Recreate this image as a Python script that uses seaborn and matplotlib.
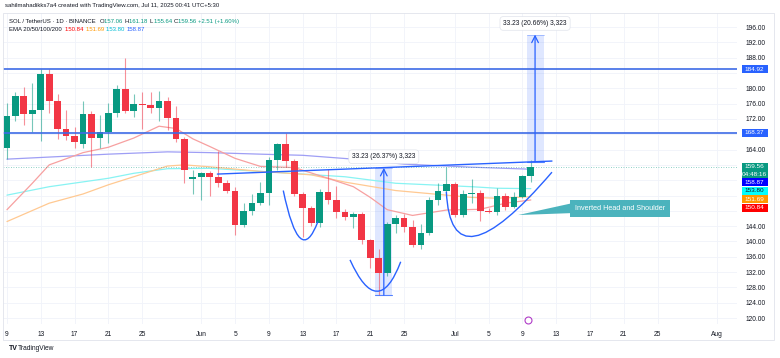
"""SOL/USDT daily chart with inverted head and shoulder markup"""

import matplotlib
matplotlib.use("Agg")
import matplotlib.pyplot as plt
import matplotlib.dates as mdates
from matplotlib.path import Path
from matplotlib.patches import PathPatch, Rectangle, Polygon
import numpy as np
import pandas as pd
import seaborn as sns

sns.set_theme(style="white")
plt.rcParams['font.family'] = ['Liberation Sans', 'DejaVu Sans']

# daily candles, May 9 .. Jul 10 2025
dates = pd.date_range("2025-05-09", "2025-07-10", freq="D")
opens = [164.5, 172.8, 178.0, 173.2, 174.3, 183.7, 176.7, 169.3, 167.5, 165.5,
         173.3, 167.0, 168.6, 173.6, 179.7, 174.1, 175.9, 175.7, 174.9, 176.8,
         172.3, 166.8, 156.2, 156.8, 157.8, 156.9, 155.3, 153.3, 144.3, 148.0,
         150.0, 152.7, 161.3, 165.5, 161.1, 152.4, 148.7, 144.7, 153.0, 150.8,
         147.8, 146.5, 147.1, 140.3, 135.6, 131.7, 144.6, 146.1, 143.7, 139.1,
         142.1, 150.8, 153.3, 154.9, 146.9, 152.3, 152.6, 147.9, 147.6, 151.9,
         148.9, 151.7, 157.06]
highs = [176.2, 179.1, 180.3, 181.5, 185.0, 185.0, 178.5, 174.3, 169.8, 176.8,
         174.0, 173.1, 176.2, 180.9, 187.8, 178.5, 179.1, 179.1, 179.4, 177.6,
         175.4, 167.4, 158.7, 158.2, 158.5, 163.6, 156.0, 154.3, 150.1, 152.4,
         155.6, 162.0, 165.6, 168.4, 161.5, 153.0, 149.3, 153.6, 159.0, 154.5,
         148.6, 147.8, 147.8, 140.6, 138.0, 145.0, 146.9, 147.1, 145.5, 144.6,
         151.7, 155.2, 159.4, 155.6, 153.4, 156.2, 153.4, 148.7, 153.9, 152.6,
         153.0, 157.4, 161.18]
lows = [161.5, 171.5, 170.4, 168.6, 166.3, 173.5, 166.8, 166.5, 164.3, 164.5,
        159.5, 164.5, 165.6, 172.6, 173.5, 172.6, 169.3, 173.6, 171.5, 169.1,
        166.1, 155.3, 152.4, 150.8, 151.8, 154.3, 152.6, 141.7, 143.8, 146.9,
        149.5, 149.5, 158.7, 159.5, 152.0, 141.2, 144.0, 143.9, 149.9, 146.1,
        145.6, 143.4, 139.3, 133.0, 126.0, 131.0, 142.1, 142.6, 138.6, 138.0,
        141.7, 149.5, 152.8, 146.5, 146.3, 150.1, 145.4, 147.4, 146.9, 148.2,
        148.7, 151.3, 155.64]
closes = [172.8, 178.0, 173.2, 174.3, 183.7, 176.7, 169.3, 167.5, 166.0, 173.3,
          167.0, 168.6, 173.6, 179.7, 174.1, 175.9, 175.6, 174.9, 176.8, 172.2,
          166.8, 158.7, 156.8, 157.8, 156.9, 155.3, 153.3, 144.3, 148.0, 150.0,
          152.7, 161.3, 165.5, 161.1, 152.4, 148.7, 144.7, 153.0, 150.8, 147.8,
          146.5, 147.1, 140.3, 135.6, 131.7, 144.6, 146.1, 143.7, 139.1, 142.1,
          150.8, 153.3, 154.9, 146.9, 152.3, 152.6, 147.9, 147.6, 151.9, 148.9,
          151.7, 157.1, 159.56]

# EMA readings (days after May 9)
ema20_days = [0, 3, 5, 9, 12, 15, 18, 20, 22, 24, 27, 30, 34, 38, 41, 43, 45, 48, 52, 56, 59, 62]
ema20_vals = [148.3, 155.2, 160.0, 163.2, 164.6, 167.0, 170.1, 169.5, 166.8, 164.8, 161.7,
              159.6, 159.3, 156.5, 154.3, 151.5, 148.3, 146.8, 148.2, 148.4, 150.0, 150.84]
ema50_days = [0, 5, 9, 12, 15, 19, 21, 24, 30, 36, 40, 46, 52, 55, 58, 62]
ema50_vals = [145.2, 150.0, 152.4, 154.8, 156.9, 159.7, 160.0, 159.5, 158.3, 157.4, 155.5,
              153.3, 152.1, 151.5, 151.3, 151.69]
ema100_days = [0, 5, 12, 15, 19, 24, 30, 40, 46, 55, 58, 62]
ema100_vals = [152.1, 154.3, 156.5, 157.8, 159.0, 159.1, 158.3, 156.9, 155.2, 154.3, 153.9, 153.8]
ema200_days = [0, 12, 19, 24, 30, 35, 41, 47, 55, 62]
ema200_vals = [161.5, 162.8, 163.4, 163.2, 162.8, 162.5, 161.5, 160.2, 159.4, 158.87]

levels = [184.92, 168.37]
last_price = 159.56

# drawings (days after May 9, price)
neck_days = [24.9, 64.5]
neck_prices = [157.6, 161.0]
shoulder_left = [(32.7, 153.3), (34.7, 140.9), (36.8, 145.2)]
head = [(40.6, 135.2), (43.75, 127.0), (46.6, 134.7)]
shoulder_right = [(52.0, 153.0), (55.4, 141.4), (64.5, 158.1)]
measure_days = [(43.6, 45.6), (61.5, 63.5)]
measure_prices = [(126.0, 159.23), (160.8, 194.03)]
measure_labels = ["33.23 (26.37%) 3,323", "33.23 (20.66%) 3,323"]

tick_dates = ["2025-05-09", "2025-05-13", "2025-05-17", "2025-05-21", "2025-05-25",
              "2025-06-01", "2025-06-05", "2025-06-09", "2025-06-13", "2025-06-17",
              "2025-06-21", "2025-06-25", "2025-07-01", "2025-07-05", "2025-07-09",
              "2025-07-13", "2025-07-17", "2025-07-21", "2025-07-25", "2025-08-01"]
tick_labels = ["9", "13", "17", "21", "25", "Jun", "5", "9", "13", "17", "21", "25",
               "Jul", "5", "9", "13", "17", "21", "25", "Aug"]
price_ticks = list(range(120, 197, 4))

GREEN = "#089981"
RED = "#f23645"
BLUE = "#2962ff"
TXT = "#131722"

W, H = 780, 358
fig = plt.figure(figsize=(W / 100, H / 100), dpi=100)
fig.patch.set_facecolor("white")
ax = fig.add_axes([3 / W, 1 - 324 / H, (737 - 3) / W, (324 - 13) / H])
ax.set_facecolor("white")

base = mdates.date2num(dates[0])


def dx(days):
    return base + np.asarray(days, dtype=float)


x = mdates.date2num(dates)
o, h, l, c = map(np.asarray, (opens, highs, lows, closes))
up = c >= o
cols = np.where(up, GREEN, RED)

ax.vlines(x, l, h, colors=cols, lw=0.8, alpha=0.55, zorder=3)
ax.bar(x, np.maximum(np.abs(c - o), 0.25), bottom=np.minimum(o, c), width=0.8,
       color=cols, lw=0, zorder=4)

# EMAs
for days, vals, col in [(ema200_days, ema200_vals, "#9e9ef5"),
                        (ema100_days, ema100_vals, "#88f3f3"),
                        (ema50_days, ema50_vals, "#ffc992"),
                        (ema20_days, ema20_vals, "#f7a0a0")]:
    sns.lineplot(x=dx(days), y=vals, ax=ax, color=col, lw=0.9, zorder=2)

for lv in levels:
    ax.axhline(lv, color="#3d6be6", lw=1.2, zorder=5)
ax.axhline(last_price, color=GREEN, lw=0.6, ls=(0, (1, 2)), alpha=0.6, zorder=2)

ax.plot(dx(neck_days), neck_prices, color=BLUE, lw=1.0, zorder=5)


def curve(pts):
    (sx, sy), (bx, by), (ex, ey) = pts
    cx, cy = 2 * bx - (sx + ex) / 2, 2 * by - (sy + ey) / 2
    verts = [(base + sx, sy), (base + cx, cy), (base + ex, ey)]
    ax.add_patch(PathPatch(Path(verts, [Path.MOVETO, Path.CURVE3, Path.CURVE3]),
                           fc="none", ec=BLUE, lw=1.0, zorder=6))


for pts in (shoulder_left, head, shoulder_right):
    curve(pts)

for (d0, d1), (p0, p1), lab in zip(measure_days, measure_prices, measure_labels):
    ax.add_patch(Rectangle((base + d0, p0), d1 - d0, p1 - p0, fc=BLUE, alpha=0.15,
                           ec="none", zorder=1))
    mid = base + (d0 + d1) / 2
    ax.plot([base + d0, base + d1], [p0, p0], color=BLUE, lw=0.8, alpha=0.8, zorder=6)
    ax.plot([base + d0, base + d1], [p1, p1], color=BLUE, lw=0.6, alpha=0.4, zorder=6)
    ax.annotate("", xy=(mid, p1), xytext=(mid, p0),
                arrowprops=dict(arrowstyle="->", color=BLUE, lw=0.9,
                                shrinkA=0, shrinkB=0), zorder=6)
    ax.annotate(lab, xy=(mid, p1), xytext=(0, 8), textcoords="offset points",
                ha="center", va="center", fontsize=4.8, color=TXT, zorder=8,
                bbox=dict(boxstyle="round,pad=0.5", fc="white", ec="#e0e3eb", lw=0.5))

# callout
call_col = "#4bb3bd"
ax.add_patch(Rectangle((base + 66.6, 146.4), 11.9, 4.4, fc=call_col, ec="none", zorder=7))
ax.add_patch(Polygon([(base + 66.7, 149.9), (base + 60.5, 146.9), (base + 66.7, 147.4)],
                     closed=True, fc=call_col, ec="none", zorder=7))
ax.text(base + 72.55, 148.6, "Inverted Head and Shoulder", ha="center", va="center",
        fontsize=5.2, color="white", zorder=8)

# purple event marker under last candle
ax.plot([base + 61.7], [119.6], marker="o", ms=5, mfc="white", mec="#b03cc8", mew=0.8,
        clip_on=False, zorder=9)

# axes
ax.set_xlim(base - 0.47, base + 86.4)
ax.set_ylim(118.45, 199.66)
ax.set_xticks(mdates.date2num(pd.to_datetime(tick_dates)))
ax.set_xticklabels(tick_labels)
ax.set_yticks(price_ticks)
ax.yaxis.tick_right()
ax.tick_params(axis="y", length=0, pad=6.5, labelsize=4.8, labelcolor=TXT)
ax.tick_params(axis="x", length=0, pad=5, labelsize=4.8, labelcolor=TXT)
ax.grid(True, color="#f0f3fa", lw=0.6)
ax.set_axisbelow(True)
for s in ax.spines.values():
    s.set_visible(False)

# frame
fig.add_artist(Rectangle((3 / W, 1 - 340 / H), 771 / W, 327 / H, transform=fig.transFigure,
                         fc="none", ec="#e0e3eb", lw=0.6))


def price_px(p):
    return H - ax.transData.transform((base, p))[1]


# price tags on the right axis, stacked so they do not overlap
tags = [(184.92, ["184.92"], "#2962ff", "white"),
        (168.37, ["168.37"], "#2962ff", "white"),
        (159.56, ["159.56", "04:48:16"], GREEN, "white"),
        (158.87, ["158.87"], "#0000ff", "white"),
        (153.80, ["153.80"], "#00ffff", TXT),
        (151.69, ["151.69"], "#ff9800", "white"),
        (150.84, ["150.84"], "#ff0000", "white")]
spans = []
prev_bottom = -1e9
for price, lines, bg, fg in tags:
    hgt = 8 * len(lines) - (1 if len(lines) > 1 else 0)
    top = max(price_px(price) - 4, prev_bottom + 0.5)
    prev_bottom = top + hgt
    spans.append((top, top + hgt))
    fig.add_artist(Rectangle((742 / W, 1 - (top + hgt) / H), 25.5 / W, hgt / H,
                             transform=fig.transFigure, fc=bg, ec="none", zorder=10))
    for i, t in enumerate(lines):
        fig.text(754.7 / W, 1 - (top + 4 + 7.5 * i) / H, t, ha="center", va="center",
                 fontsize=4.6, color=fg, zorder=11)

# hide price labels covered by a tag
ylabels = []
for p in price_ticks:
    py = price_px(p)
    hidden = any(t - 3.5 < py < b + 3.5 for t, b in spans)
    ylabels.append("" if hidden else f"{p:.2f}")
ax.set_yticklabels(ylabels)

# header
renderer = fig.canvas.get_renderer()


def chain(xp, yp, parts, size=4.3):
    for txt, col in parts:
        t = fig.text(xp / W, 1 - yp / H, txt, fontsize=size, color=col, va="center")
        bb = t.get_window_extent(renderer)
        xp = bb.x1 + 0.4
    return xp


fig.text(5 / W, 1 - 6 / H, "sahilmahadikks7a4 created with TradingView.com, Jul 11, 2025 00:41 UTC+5:30",
         fontsize=4.3, color=TXT, va="center")
chain(9, 21.5, [("SOL / TetherUS · 1D · BINANCE  ", TXT),
                ("O", TXT), ("157.06 ", GREEN), ("H", TXT), ("161.18 ", GREEN),
                ("L", TXT), ("155.64 ", GREEN), ("C", TXT), ("159.56 ", GREEN),
                ("+2.51 (+1.60%)", GREEN)])
chain(9, 29.5, [("EMA 20/50/100/200  ", TXT), ("150.84 ", "#ff0000"),
                ("151.69 ", "#ff9800"), ("153.80 ", "#00bcd4"), ("158.87", "#2962ff")])

fig.text(9 / W, 1 - 349 / H, "TV", fontsize=5, color=TXT, va="center", weight="bold")
fig.text(18 / W, 1 - 349 / H, "TradingView", fontsize=4.8, color=TXT, va="center")

fig.savefig("out.png", dpi=100, facecolor="white")
